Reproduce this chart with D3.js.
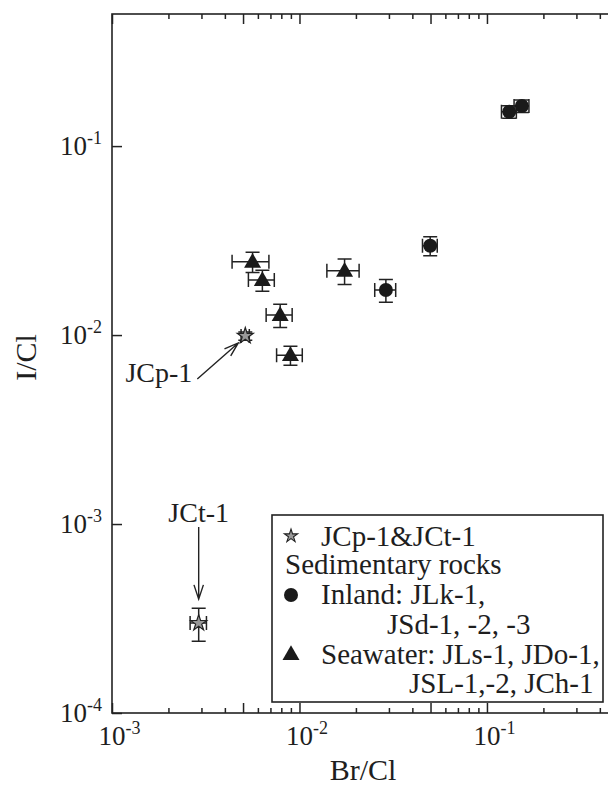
<!DOCTYPE html>
<html>
<head>
<meta charset="utf-8">
<script src="https://cdn.jsdelivr.net/npm/d3@7"></script>
<style>
  body { margin: 0; background: #fff; }
  text { font-family: "Liberation Serif", "Times New Roman", serif; fill: #1e1e1e; }
</style>
</head>
<body>
<svg id="svg" width="608" height="785"></svg>
<script>
// rows: [Br/Cl, I/Cl, error Br/Cl, error I/Cl]
var standards = [
  [0.00514, 0.00989, 0.00026, 0.0005],   // JCp-1
  [0.0029, 0.000299, 0.00029, 0.000059]  // JCt-1
];
var inland = [
  [0.0289, 0.0173, 0.0037, 0.0024],
  [0.0498, 0.0297, 0.0045, 0.0034],
  [0.1315, 0.152, 0.012, 0.0115],
  [0.1535, 0.163, 0.014, 0.0124]
];
var seawater = [
  [0.00562, 0.0244, 0.00125, 0.0030],
  [0.00634, 0.01955, 0.0010, 0.0025],
  [0.00789, 0.01277, 0.00125, 0.0018],
  [0.00895, 0.00783, 0.0014, 0.0009],
  [0.0174, 0.0219, 0.0034, 0.0034]
];
var xTicks = [0.001, 0.01, 0.1],
  xTickExp = ["-3", "-2", "-1"];
var yTicks = [0.0001, 0.001, 0.01, 0.1],
  yTickExp = ["-4", "-3", "-2", "-1"];
var legendLines = ["JCp-1&JCt-1", "Sedimentary rocks", "Inland: JLk-1,", "JSd-1, -2, -3", "Seawater: JLs-1, JDo-1,", "JSL-1,-2, JCh-1"];
var pointerNames = ["JCp-1", "JCt-1"];

var svg = d3.select("#svg"),
  margin = { top: 14, right: -10, bottom: 72, left: 112 },
  width = +svg.attr("width") - margin.left - margin.right,
  height = +svg.attr("height") - margin.top - margin.bottom;

var ink = "#222";

var x = d3.scaleLog().domain([0.001, 0.5]).range([margin.left, margin.left + width]);
var y = d3.scaleLog().domain([0.0001, 0.5]).range([margin.top + height, margin.top]);

var bottom = margin.top + height,
  right = margin.left + width;

function mant(v) {
  return Math.round(v / Math.pow(10, Math.floor(Math.log10(v) + 1e-9)));
}

var allX = x.ticks(),
  longX = allX.filter(function (v) { return mant(v) == 1 || mant(v) == 5; }),
  shortX = allX.filter(function (v) { return mant(v) != 1 && mant(v) != 5; });

function tickGroup(axis, tx, ty) {
  var g = svg.append("g")
    .attr("transform", "translate(" + tx + "," + ty + ")")
    .call(axis.tickFormat("").tickSizeOuter(0));
  g.select(".domain").remove();
  g.selectAll(".tick line").attr("stroke", ink).attr("stroke-width", 1.5);
}

// Ticks, all pointing inward
tickGroup(d3.axisBottom(x).tickValues(longX).tickSize(-10), 0, bottom);
tickGroup(d3.axisBottom(x).tickValues(shortX).tickSize(-5), 0, bottom);
tickGroup(d3.axisTop(x).tickValues(longX).tickSize(-10), 0, margin.top);
tickGroup(d3.axisTop(x).tickValues(shortX).tickSize(-5), 0, margin.top);
tickGroup(d3.axisLeft(y).tickValues(yTicks).tickSize(-10), margin.left, 0);
tickGroup(d3.axisRight(y).tickValues(yTicks).tickSize(-10), right, 0);

// frame
svg.append("rect")
  .attr("x", margin.left).attr("y", margin.top)
  .attr("width", width).attr("height", height)
  .attr("fill", "none").attr("stroke", ink).attr("stroke-width", 1.6);

// X tick labels
var xl = svg.selectAll(".xlab").data(xTicks).enter().append("text")
  .attr("class", "xlab")
  .attr("x", function (d) { return x(d) - 13.5; })
  .attr("y", bottom + 32)
  .style("font-size", "27px");
xl.append("tspan").text("10");
xl.append("tspan").attr("dy", -11).style("font-size", "18px")
  .text(function (d, i) { return xTickExp[i]; });

// Y tick labels
var yl = svg.selectAll(".ylab").data(yTicks).enter().append("text")
  .attr("class", "ylab")
  .attr("x", margin.left - 10)
  .attr("y", function (d) { return y(d) + 9; })
  .attr("text-anchor", "end")
  .style("font-size", "27px");
yl.append("tspan").text("10");
yl.append("tspan").attr("dy", -11).style("font-size", "18px")
  .text(function (d, i) { return yTickExp[i]; });

// axis titles
svg.append("text")
  .attr("x", (margin.left + right) / 2 - 2)
  .attr("y", 780)
  .attr("text-anchor", "middle")
  .style("font-size", "30px")
  .text("Br/Cl");
svg.append("text")
  .attr("transform", "translate(36," + (margin.top + height / 2 - 6) + ") rotate(-90)")
  .attr("text-anchor", "middle")
  .style("font-size", "30px")
  .text("I/Cl");

// error bars
function errorBars(rows) {
  var g = svg.append("g").attr("stroke", ink).attr("stroke-width", 1.5).attr("fill", "none");
  rows.forEach(function (r) {
    var cx = x(r[0]), cy = y(r[1]),
      x0 = x(r[0] - r[2]), x1 = x(r[0] + r[2]),
      y0 = y(r[1] - r[3]), y1 = y(r[1] + r[3]),
      cap = 7;
    g.append("path")
      .attr("d", "M" + x0 + "," + cy + "H" + x1 +
        "M" + x0 + "," + (cy - cap) + "V" + (cy + cap) +
        "M" + x1 + "," + (cy - cap) + "V" + (cy + cap) +
        "M" + cx + "," + y0 + "V" + y1 +
        "M" + (cx - cap) + "," + y0 + "H" + (cx + cap) +
        "M" + (cx - cap) + "," + y1 + "H" + (cx + cap));
  });
}
errorBars(standards);
errorBars(inland);
errorBars(seawater);

var star = d3.symbol().type(d3.symbolStar).size(80),
  tri = d3.symbol().type(d3.symbolTriangle).size(125);

// markers
svg.selectAll(".inland").data(inland).enter().append("circle")
  .attr("cx", function (d) { return x(d[0]); })
  .attr("cy", function (d) { return y(d[1]); })
  .attr("r", 7)
  .attr("fill", "#1a1a1a");

svg.selectAll(".sea").data(seawater).enter().append("path")
  .attr("d", tri)
  .attr("transform", function (d) { return "translate(" + x(d[0]) + "," + (y(d[1]) + 1) + ")"; })
  .attr("fill", "#1a1a1a");

svg.selectAll(".std").data(standards).enter().append("path")
  .attr("d", star)
  .attr("transform", function (d) { return "translate(" + x(d[0]) + "," + y(d[1]) + ")"; })
  .attr("fill", "#999")
  .attr("stroke", ink)
  .attr("stroke-width", 1.2);

// pointers to the two standards
function arrow(x1, y1, x2, y2) {
  var a = Math.atan2(y2 - y1, x2 - x1), len = 15, spread = 0.32;
  svg.append("path")
    .attr("d", "M" + x1 + "," + y1 + "L" + x2 + "," + y2 +
      "M" + (x2 - len * Math.cos(a - spread)) + "," + (y2 - len * Math.sin(a - spread)) +
      "L" + x2 + "," + y2 +
      "L" + (x2 - len * Math.cos(a + spread)) + "," + (y2 - len * Math.sin(a + spread)))
    .attr("stroke", ink).attr("stroke-width", 1.4).attr("fill", "none");
}

var p = standards[0];
svg.append("text")
  .attr("x", x(p[0]) - 53).attr("y", y(p[1]) + 46)
  .attr("text-anchor", "end")
  .style("font-size", "28px")
  .text(pointerNames[0]);
arrow(x(p[0]) - 48, y(p[1]) + 43, x(p[0]) - 7, y(p[1]) + 7);

var q = standards[1];
svg.append("text")
  .attr("x", x(q[0])).attr("y", y(q[1]) - 101)
  .attr("text-anchor", "middle")
  .style("font-size", "28px")
  .text(pointerNames[1]);
arrow(x(q[0]), y(q[1]) - 96, x(q[0]), y(q[1]) - 24);

// Legend
var lg = svg.append("g").attr("transform", "translate(272,515)");
lg.append("rect")
  .attr("width", 331).attr("height", 187)
  .attr("fill", "#fff").attr("stroke", ink).attr("stroke-width", 1.6);

var lineX = [49, 13, 49, 115, 49, 137],
  lineY = [31, 59, 89, 119, 149, 178];
lg.selectAll(".lt").data(legendLines).enter().append("text")
  .attr("x", function (d, i) { return lineX[i]; })
  .attr("y", function (d, i) { return lineY[i]; })
  .style("font-size", "29px")
  .text(function (d) { return d; });

lg.append("path").attr("d", d3.symbol().type(d3.symbolStar).size(55))
  .attr("transform", "translate(19,21)")
  .attr("fill", "#999").attr("stroke", ink).attr("stroke-width", 1.1);
lg.append("circle").attr("cx", 19).attr("cy", 80).attr("r", 7).attr("fill", "#1a1a1a");
lg.append("path").attr("d", tri)
  .attr("transform", "translate(19,140)")
  .attr("fill", "#1a1a1a");
</script>
</body>
</html>
